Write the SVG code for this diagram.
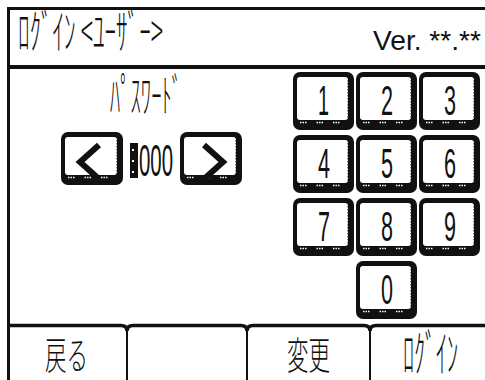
<svg xmlns="http://www.w3.org/2000/svg" xmlns:xlink="http://www.w3.org/1999/xlink" width="485" height="380" viewBox="0 0 485 380">
<style>
.jp{font-family:"Noto Sans CJK JP","Noto Sans",sans-serif;fill:#111;font-weight:300;}
.num{font-family:"Liberation Sans","DejaVu Sans",sans-serif;fill:#111;}
.ln{stroke:#111;fill:none;}
.chev{stroke:#111;stroke-width:6;fill:none;stroke-linejoin:miter;stroke-linecap:butt;}
</style>
<defs>
<g id="key">
<rect x="0" y="0" width="61" height="58" rx="7" fill="#111"/>
<rect x="4" y="5" width="51" height="43" rx="3" fill="#fff"/>
<line x1="55.5" y1="8" x2="55.5" y2="47" stroke="#111" stroke-width="2" stroke-dasharray="1.5 1.5"/>
<line x1="7" y1="50.5" x2="54" y2="50.5" stroke="#fff" stroke-width="1.5" stroke-dasharray="1.5 1 1.5 1 1.5 10"/>
</g>
<g id="abtn">
<rect x="0" y="0" width="62" height="53" rx="7" fill="#111"/>
<rect x="4" y="5" width="52" height="38" rx="3" fill="#fff"/>
<line x1="56.5" y1="8" x2="56.5" y2="42" stroke="#111" stroke-width="2" stroke-dasharray="1.5 1.5"/>
<line x1="7" y1="45.5" x2="55" y2="45.5" stroke="#fff" stroke-width="1.5" stroke-dasharray="1.5 1 1.5 1 1.5 10"/>
</g>
</defs>
<rect width="485" height="380" fill="#fff"/>
<g id="frame">
<line class="ln" x1="7" y1="8.5" x2="485" y2="8.5" stroke-width="3"/>
<line class="ln" x1="8.5" y1="7" x2="8.5" y2="380" stroke-width="3"/>
<line class="ln" x1="7" y1="67" x2="485" y2="67" stroke-width="4"/>
</g>
<g id="header">
<text class="jp" x="18" y="49" font-size="48" textLength="145" lengthAdjust="spacingAndGlyphs">ﾛｸﾞｲﾝ &lt;ﾕｰｻﾞｰ&gt;</text>
<text class="num" x="373" y="50" font-size="28" textLength="108" lengthAdjust="spacingAndGlyphs">Ver. **.**</text>
</g>
<g id="password">
<text class="jp" x="110" y="112" font-size="46" textLength="72" lengthAdjust="spacingAndGlyphs">ﾊﾟｽﾜｰﾄﾞ</text>
</g>
<g id="btn-left">
<use xlink:href="#abtn" x="61" y="132"/>
<polyline class="chev" points="99,145 80,162 99,179"/>
</g>
<g id="display">
<rect x="130" y="143" width="8" height="35" fill="#111"/>
<rect x="132" y="149" width="2" height="2" fill="#fff"/>
<rect x="132" y="160" width="2" height="2" fill="#fff"/>
<rect x="132" y="171" width="2" height="2" fill="#fff"/>
<text class="num" x="139" y="176" font-size="44" textLength="34" lengthAdjust="spacingAndGlyphs">000</text>
</g>
<g id="btn-right">
<use xlink:href="#abtn" x="180" y="132"/>
<polyline class="chev" points="204,145 223,162 204,179"/>
</g>
<g id="key-1"><use xlink:href="#key" x="293" y="72"/><text class="num" x="318" y="115" font-size="42" textLength="11" lengthAdjust="spacingAndGlyphs">1</text></g>
<g id="key-2"><use xlink:href="#key" x="356" y="72"/><text class="num" x="381" y="115" font-size="42" textLength="12" lengthAdjust="spacingAndGlyphs">2</text></g>
<g id="key-3"><use xlink:href="#key" x="419" y="72"/><text class="num" x="444" y="115" font-size="42" textLength="12" lengthAdjust="spacingAndGlyphs">3</text></g>
<g id="key-4"><use xlink:href="#key" x="293" y="135"/><text class="num" x="318" y="178" font-size="42" textLength="12" lengthAdjust="spacingAndGlyphs">4</text></g>
<g id="key-5"><use xlink:href="#key" x="356" y="135"/><text class="num" x="381" y="178" font-size="42" textLength="12" lengthAdjust="spacingAndGlyphs">5</text></g>
<g id="key-6"><use xlink:href="#key" x="419" y="135"/><text class="num" x="444" y="178" font-size="42" textLength="12" lengthAdjust="spacingAndGlyphs">6</text></g>
<g id="key-7"><use xlink:href="#key" x="293" y="198"/><text class="num" x="318" y="241" font-size="42" textLength="12" lengthAdjust="spacingAndGlyphs">7</text></g>
<g id="key-8"><use xlink:href="#key" x="356" y="198"/><text class="num" x="381" y="241" font-size="42" textLength="12" lengthAdjust="spacingAndGlyphs">8</text></g>
<g id="key-9"><use xlink:href="#key" x="419" y="198"/><text class="num" x="444" y="241" font-size="42" textLength="12" lengthAdjust="spacingAndGlyphs">9</text></g>
<g id="key-0"><use xlink:href="#key" x="356" y="261"/><text class="num" x="381" y="304" font-size="42" textLength="12" lengthAdjust="spacingAndGlyphs">0</text></g>
<g id="tabs">
<path class="ln" stroke-width="3.5" d="M7,325.5 H121 Q127,325.5 127,331 Q127,325.5 133,325.5 H241 Q247,325.5 247,331 Q247,325.5 253,325.5 H364 Q370,325.5 370,331 Q370,325.5 376,325.5 H485"/>
<line class="ln" x1="127" y1="330" x2="127" y2="380" stroke-width="2"/>
<line class="ln" x1="247" y1="330" x2="247" y2="380" stroke-width="2"/>
<line class="ln" x1="370" y1="330" x2="370" y2="380" stroke-width="2"/>
</g>
<g id="tab-back"><text class="jp" x="45" y="369" font-size="38" textLength="43" lengthAdjust="spacingAndGlyphs">戻る</text></g>
<g id="tab-blank"></g>
<g id="tab-change"><text class="jp" x="287" y="369" font-size="38" textLength="43" lengthAdjust="spacingAndGlyphs">変更</text></g>
<g id="tab-login"><text class="jp" x="403" y="372" font-size="50" textLength="55" lengthAdjust="spacingAndGlyphs">ﾛｸﾞｲﾝ</text></g>
<g id="connectors"></g>
</svg>
